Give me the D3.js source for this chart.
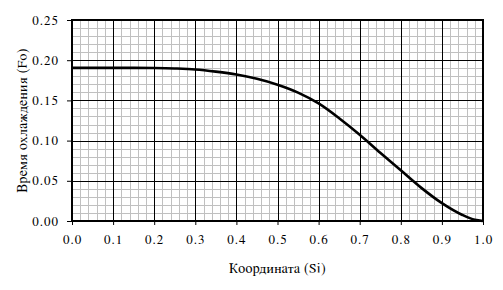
<!DOCTYPE html>
<html>
<head>
<meta charset="utf-8">
<script src="https://cdn.jsdelivr.net/npm/d3@7"></script>
<style>
  body { margin: 0; background: #fff; }
</style>
</head>
<body>
<div id="chart"></div>
<script>
// values
let si = [0, 0.05, 0.1, 0.15, 0.2, 0.25, 0.3, 0.35, 0.4, 0.45, 0.5, 0.55, 0.6, 0.65, 0.7, 0.75, 0.8, 0.85, 0.9, 0.95, 0.98, 1.0];
let fo = [0.1905, 0.1905, 0.1905, 0.1905, 0.1903, 0.1897, 0.1885, 0.1858, 0.1822, 0.1768, 0.1695, 0.1597, 0.1462, 0.1278, 0.1072, 0.0848, 0.0630, 0.0412, 0.0222, 0.0075, 0.0015, 0.0];
let xTicks = [0, 0.1, 0.2, 0.3, 0.4, 0.5, 0.6, 0.7, 0.8, 0.9, 1.0];
let yTicks = [0, 0.05, 0.10, 0.15, 0.20, 0.25];

// FreeSerif covers both latin and cyrillic here
let font = "'FreeSerif'";

let margin = {top: 20, right: 20, bottom: 69, left: 72};
let width = 503 - margin.left - margin.right;
let height = 290 - margin.top - margin.bottom;

let svg = d3.select('#chart')
  .append('svg')
    .attr('width', 503)
    .attr('height', 290)
  .append('g')
    .attr('transform', 'translate(' + margin.left + ',' + margin.top + ')');

let x = d3.scaleLinear().domain([0, 1]).range([0, width]);
let y = d3.scaleLinear().domain([0, 0.25]).range([height, 0]);

// minor grid
svg.append('g')
  .selectAll('line')
  .data(d3.range(0, 51).map(i => i * 0.02))
  .enter().append('line')
    .attr('x1', d => Math.round(x(d)) + 0.5).attr('x2', d => Math.round(x(d)) + 0.5)
    .attr('y1', 0).attr('y2', height)
    .attr('stroke', '#c0c0c0').attr('stroke-width', 1);

svg.append('g')
  .selectAll('line')
  .data(d3.range(0, 26).map(i => i * 0.01))
  .enter().append('line')
    .attr('y1', d => Math.round(y(d)) + 0.5).attr('y2', d => Math.round(y(d)) + 0.5)
    .attr('x1', 0).attr('x2', width)
    .attr('stroke', '#c0c0c0').attr('stroke-width', 1);

// major grid
svg.append('g')
  .selectAll('line')
  .data(xTicks)
  .enter().append('line')
    .attr('x1', d => Math.round(x(d)) + 0.5).attr('x2', d => Math.round(x(d)) + 0.5)
    .attr('y1', 0).attr('y2', height)
    .attr('stroke', '#000').attr('stroke-width', 1);

svg.append('g')
  .selectAll('line')
  .data(yTicks)
  .enter().append('line')
    .attr('y1', d => Math.round(y(d)) + 0.5).attr('y2', d => Math.round(y(d)) + 0.5)
    .attr('x1', 0).attr('x2', width)
    .attr('stroke', '#000').attr('stroke-width', 1);

// axes
let xAxis = svg.append('g')
  .attr('transform', 'translate(0,' + height + ')')
  .call(d3.axisBottom(x).tickValues(xTicks).tickFormat(d3.format('.1f')).tickSize(4).tickPadding(10));

let yAxis = svg.append('g')
  .call(d3.axisLeft(y).tickValues(yTicks).tickFormat(d3.format('.2f')).tickSize(5).tickPadding(8));

[xAxis, yAxis].forEach(a => {
  a.attr('font-family', null);
  a.select('.domain').remove();
  a.selectAll('line').attr('stroke', '#000');
  a.selectAll('text').attr('fill', '#000')
    .style('font-family', font)
    .style('font-size', '13px')
    .style('letter-spacing', '1px');
});

// frame
svg.append('rect')
  .attr('x', 0).attr('y', 0)
  .attr('width', width).attr('height', height)
  .attr('fill', 'none')
  .attr('stroke', '#000')
  .attr('stroke-width', 2);

// curve
let line = d3.line()
  .x((d, i) => x(si[i]))
  .y(d => y(d))
  .curve(d3.curveMonotoneX);

svg.append('path')
  .datum(fo)
  .attr('d', line)
  .attr('fill', 'none')
  .attr('stroke', '#000')
  .attr('stroke-width', 2.6);

// axis labels
svg.append('text')
  .attr('x', width / 2)
  .attr('y', height + 52)
  .attr('text-anchor', 'middle')
  .style('font-family', font)
  .style('font-size', '14px')
  .style('letter-spacing', '0.3px')
  .text('Координата (Si)');

svg.append('text')
  .attr('transform', 'rotate(-90)')
  .attr('x', -height / 2)
  .attr('y', -45)
  .attr('text-anchor', 'middle')
  .style('font-family', font)
  .style('font-size', '14px')
  .style('letter-spacing', '0.3px')
  .text('Время охлаждения (Fo)');
</script>
</body>
</html>
